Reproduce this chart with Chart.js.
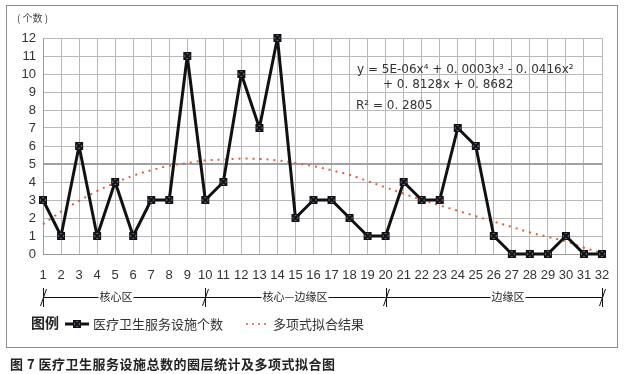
<!DOCTYPE html>
<html lang="zh-CN">
<head>
  <meta charset="UTF-8" />
  <title>医疗卫生服务设施总数的圈层统计及多项式拟合图</title>
  <script src="https://cdn.jsdelivr.net/npm/chart.js"></script>
  <style>
    body { margin: 0; background: #fff; width: 629px; height: 374px; position: relative; overflow: hidden; }
    #frame { position: absolute; left: 6px; top: 5px; width: 610px; height: 341px; border: 1px solid #8a8a8a; }
    #c { position: absolute; left: 0; top: 0; }
    #caption { position: absolute; left: 10px; top: 354px; font: bold 13px "Noto Sans CJK SC", sans-serif; color: #222; letter-spacing: 0.5px; }
  </style>
</head>
<body>
  <div id="frame"></div>
  <canvas id="c" width="629" height="374"></canvas>
  <div id="caption">图 7 医疗卫生服务设施总数的圈层统计及多项式拟合图</div>

  <script>
    // 圈层编号
    const rings = ['1','2','3','4','5','6','7','8','9','10','11','12','13','14','15','16',
                   '17','18','19','20','21','22','23','24','25','26','27','28','29','30','31','32'];
    // 医疗卫生服务设施个数
    const facilityCount = [3,1,6,1,4,1,3,3,11,3,4,10,7,12,2,3,3,2,1,1,4,3,3,7,6,1,0,0,0,1,0,0];
    // 多项式拟合结果
    const fitValues = [1.65,2.35,2.95,3.5,3.95,4.35,4.65,4.9,5.05,5.2,5.25,5.3,5.28,5.2,5.05,4.88,
                       4.65,4.4,4.05,3.7,3.35,3.0,2.7,2.4,2.1,1.8,1.5,1.2,0.95,0.7,0.35,0.05];
    // 分区: 起止圈层
    const zones = [
      { name: '核心区', from: 1, to: 10 },
      { name: '核心—边缘区', from: 10, to: 20 },
      { name: '边缘区', from: 20, to: 32 }
    ];
    const yTicks = [0,1,2,3,4,5,6,7,8,9,10,11,12];

    const CJK = '"Noto Sans CJK SC", sans-serif';
    const LATIN = '"Liberation Sans", Arial, sans-serif';

    // 方块叉号标记
    function makeMarker() {
      const m = document.createElement('canvas');
      m.width = 10; m.height = 10;
      const g = m.getContext('2d');
      g.fillStyle = '#66668a';
      g.fillRect(1, 1, 8, 8);
      g.strokeStyle = '#111';
      g.lineWidth = 1;
      g.strokeRect(1.5, 1.5, 7, 7);
      g.lineWidth = 2;
      g.beginPath();
      g.moveTo(2, 2); g.lineTo(8, 8);
      g.moveTo(8, 2); g.lineTo(2, 8);
      g.stroke();
      return m;
    }
    const marker = makeMarker();

    const extras = {
      id: 'extras',
      afterDraw(chart) {
        const ctx = chart.ctx;
        const x = chart.scales.x;
        ctx.save();

        // (个数)
        ctx.fillStyle = '#444';
        ctx.font = '10px ' + CJK;
        ctx.textBaseline = 'middle';
        ctx.fillText('( 个数 )', 17, 18);

        // 公式
        ctx.fillStyle = '#333';
        ctx.font = '12px "DejaVu Sans", sans-serif';
        ctx.fillText('y = 5E-06x⁴ + 0. 0003x³ - 0. 0416x²', 357, 70);
        ctx.fillText('+ 0. 8128x + 0. 8682', 383, 85);
        ctx.fillText('R² = 0. 2805', 356, 106);

        // 分区括线
        const by = 297;
        ctx.strokeStyle = '#111';
        ctx.lineWidth = 1;
        ctx.font = '11px ' + CJK;
        ctx.textAlign = 'center';
        const centers = [116, 295, 508];
        zones.forEach((z, i) => {
          const x0 = x.getPixelForValue(z.from - 1);
          const x1 = x.getPixelForValue(z.to - 1);
          const cx = centers[i];
          const w = ctx.measureText(z.name).width + 2;
          ctx.beginPath();
          ctx.moveTo(x0, by + 0.5); ctx.lineTo(cx - w / 2, by + 0.5);
          ctx.moveTo(cx + w / 2, by + 0.5); ctx.lineTo(x1, by + 0.5);
          ctx.stroke();
          ctx.fillStyle = '#222';
          ctx.fillText(z.name, cx, by);
        });
        // 端点标记
        const ends = [1, 10, 20, 32];
        ends.forEach(v => {
          const px = Math.round(x.getPixelForValue(v - 1)) + 0.5;
          ctx.beginPath();
          ctx.moveTo(px, by - 9); ctx.lineTo(px, by + 10);
          ctx.moveTo(px - 3, by + 9); ctx.lineTo(px + 3, by - 8);
          ctx.stroke();
        });

        // 图例
        const ly = 324;
        ctx.textAlign = 'left';
        ctx.fillStyle = '#222';
        ctx.font = 'bold 14px ' + CJK;
        ctx.fillText('图例', 31, ly - 1);
        ctx.strokeStyle = '#111';
        ctx.lineWidth = 3;
        ctx.beginPath();
        ctx.moveTo(65, ly); ctx.lineTo(89, ly);
        ctx.stroke();
        ctx.drawImage(marker, 72, ly - 5);
        ctx.font = '13px ' + CJK;
        ctx.fillStyle = '#333';
        ctx.fillText('医疗卫生服务设施个数', 93, ly);
        ctx.strokeStyle = '#d9603b';
        ctx.lineWidth = 1.5;
        ctx.setLineDash([2, 4]);
        ctx.beginPath();
        ctx.moveTo(246, ly); ctx.lineTo(268, ly);
        ctx.stroke();
        ctx.setLineDash([]);
        ctx.fillText('多项式拟合结果', 273, ly);

        ctx.restore();
      }
    };

    new Chart(document.getElementById('c'), {
      type: 'line',
      data: {
        labels: rings,
        datasets: [
          {
            label: '医疗卫生服务设施个数',
            data: facilityCount,
            borderColor: '#111',
            borderWidth: 3,
            borderJoinStyle: 'round',
            pointStyle: marker,
            pointRadius: 5,
            clip: false,
            tension: 0,
            order: 1
          },
          {
            label: '多项式拟合结果',
            data: fitValues,
            borderColor: '#d9603b',
            borderWidth: 2,
            borderDash: [2, 5],
            pointRadius: 0,
            tension: 0.4,
            order: 2
          }
        ]
      },
      options: {
        responsive: false,
        animation: false,
        layout: { padding: { left: 0, top: 38, right: 27, bottom: 0 } },
        plugins: { legend: { display: false }, tooltip: { enabled: false } },
        scales: {
          x: {
            offset: false,
            grid: { color: '#b8b8b8', lineWidth: 1, drawTicks: false },
            border: { color: '#9a9a9a' },
            ticks: { color: '#333', font: { family: LATIN, size: 13 }, padding: 14, maxRotation: 0, autoSkip: false },
            afterFit(s) { s.height = 120; }
          },
          y: {
            min: 0,
            max: 12,
            afterBuildTicks(s) { s.ticks = yTicks.map(v => ({ value: v })); },
            grid: {
              drawTicks: false,
              color: c => c.tick && c.tick.value === 5 ? '#a0a0a0' : '#b8b8b8',
              lineWidth: c => c.tick && c.tick.value === 5 ? 2 : 1
            },
            border: { color: '#9a9a9a' },
            ticks: { color: '#333', font: { family: LATIN, size: 13 }, padding: 7, autoSkip: false },
            afterFit(s) { s.width = 43; }
          }
        }
      },
      plugins: [extras]
    });
  </script>
</body>
</html>
